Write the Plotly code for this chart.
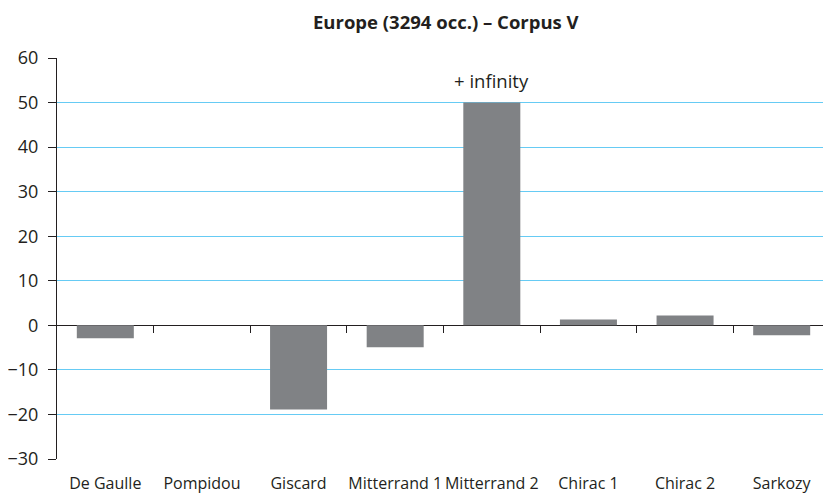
import plotly.graph_objects as go

categories = ["De Gaulle", "Pompidou", "Giscard", "Mitterrand 1", "Mitterrand 2", "Chirac 1", "Chirac 2", "Sarkozy"]
values = [-2.9, 0, -18.9, -4.9, 50, 1.3, 2.2, -2.2]
infinite_label = "+ infinity"
infinite_index = 4
y_ticks = [-30, -20, -10, 0, 10, 20, 30, 40, 50, 60]
y_ticktext = ["\u221230", "\u221220", "\u221210", "0", "10", "20", "30", "40", "50", "60"]

FONT = "Open Sans"

fig = go.Figure()
fig.add_trace(go.Bar(
    x=categories, y=values, marker_color="#808285", marker_line_width=0,
    width=0.59, showlegend=False, hoverinfo="x+y",
))
# invisible helper trace for the boundary tick axis on the zero line
fig.add_trace(go.Scatter(x=[-0.5, 7.5], y=[0, 0], xaxis="x2", yaxis="y",
                         mode="lines", line=dict(width=0), showlegend=False, hoverinfo="skip"))

fig.add_annotation(x=categories[infinite_index], y=values[infinite_index], text=infinite_label,
                   showarrow=False, yanchor="bottom", yshift=8,
                   font=dict(size=18.5, family=FONT, color="#231f20"))

fig.update_layout(
    width=823, height=489,
    margin=dict(l=49, r=1, t=50, b=38),
    paper_bgcolor="white", plot_bgcolor="white",
    font=dict(family=FONT, color="#231f20"),
    title=dict(text="<b>Europe (3294 occ.) \u2013 Corpus V</b>", xref="paper", x=0.503, xanchor="center",
               yref="container", y=0.971, yanchor="middle", font=dict(size=18.5, family=FONT, color="#231f20")),
    xaxis=dict(type="category", range=[-0.5, 7.5], showgrid=False, showline=False, automargin=False,
               ticks="outside", ticklen=10, tickcolor="rgba(0,0,0,0)",
               tickfont=dict(size=16), zeroline=False, fixedrange=True),
    xaxis2=dict(overlaying="x", anchor="free", position=1/3, range=[-0.5, 7.5], automargin=False,
                tickvals=[0.5, 1.5, 2.5, 3.5, 4.5, 5.5, 6.5, 7.5], showticklabels=False,
                ticks="outside", ticklen=7, tickwidth=1.2, tickcolor="#231f20",
                showgrid=False, showline=False, zeroline=False, side="bottom"),
    yaxis=dict(range=[-30, 60], tickvals=y_ticks, ticktext=y_ticktext, automargin=False,
               showgrid=True, gridcolor="#66cbf4", gridwidth=1.3,
               zeroline=True, zerolinecolor="#231f20", zerolinewidth=1.4,
               showline=True, linecolor="#231f20", linewidth=1.2,
               ticks="outside", ticklen=8, tickwidth=1.2, tickcolor="#231f20",
               ticklabelstandoff=6,
               tickfont=dict(size=18), fixedrange=True),
    bargap=0.41,
)
fig.write_html("out.html")
